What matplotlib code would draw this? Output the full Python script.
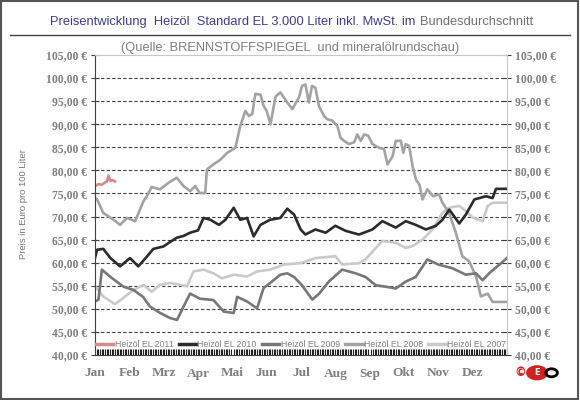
import matplotlib
matplotlib.use("Agg")
import matplotlib.pyplot as plt
from matplotlib.patches import Rectangle, Circle
from matplotlib.lines import Line2D
import numpy as np

# ---------------------------------------------------------------
# Daten (Monate ab Jan = 0, Preis in Euro pro 100 Liter)
# ---------------------------------------------------------------
month_labels = ['Jan', 'Feb', 'Mrz', 'Apr', 'Mai', 'Jun',
                'Jul', 'Aug', 'Sep', 'Okt', 'Nov', 'Dez']

m_2011 = [0.0, 0.1, 0.2, 0.3, 0.35, 0.39, 0.45, 0.52, 0.58]
p_2011 = [76.6, 77.0, 76.9, 77.4, 77.6, 78.9, 77.7, 77.9, 77.6]

m_2010 = [0.0, 0.06, 0.24, 0.45, 0.73, 1.02, 1.26, 1.51, 1.7, 1.99, 2.19,
          2.38, 2.58, 2.77, 3.0, 3.16, 3.36, 3.61, 3.8, 4.04, 4.23, 4.43,
          4.62, 4.82, 5.1, 5.4, 5.6, 5.8, 5.99, 6.13, 6.42, 6.72, 7.0, 7.3,
          7.69, 8.08, 8.37, 8.76, 9.05, 9.34, 9.64, 9.93, 10.12, 10.32,
          10.61, 10.8, 11.05, 11.39, 11.58, 11.68, 12.0]
p_2010 = [61.0, 62.8, 63.0, 61.0, 59.2, 61.0, 59.2, 61.3, 63.0, 63.5, 64.5,
          65.4, 65.8, 66.5, 67.0, 69.7, 69.3, 68.2, 69.3, 71.9, 69.3, 69.7,
          65.7, 68.2, 69.3, 69.7, 71.7, 70.4, 67.2, 66.1, 67.2, 66.5, 68.0,
          66.9, 66.1, 67.2, 69.0, 67.6, 69.0, 68.2, 67.2, 68.0, 69.3, 71.5,
          68.5, 70.4, 73.7, 74.4, 74.0, 76.0, 76.0]

m_2009 = [0.0, 0.1, 0.2, 0.45, 0.83, 1.12, 1.4, 1.6, 1.9, 2.19, 2.39, 2.58,
          2.77, 3.06, 3.45, 3.75, 4.04, 4.14, 4.43, 4.72, 4.91, 5.1, 5.4,
          5.6, 5.8, 6.03, 6.33, 6.53, 6.81, 7.2, 7.59, 7.88, 8.18, 8.47,
          8.76, 9.05, 9.34, 9.68, 10.0, 10.41, 10.8, 11.1, 11.29, 11.48,
          11.78, 12.0]
p_2009 = [51.6, 52.0, 58.5, 56.9, 54.8, 54.1, 52.6, 50.5, 49.1, 48.0, 47.6,
          50.5, 53.3, 52.2, 51.9, 49.4, 49.1, 52.6, 51.6, 50.1, 54.5, 55.6,
          57.4, 57.7, 56.9, 55.1, 52.0, 53.3, 55.9, 58.5, 57.7, 56.9, 55.1,
          54.8, 54.4, 55.9, 56.9, 60.7, 59.6, 58.8, 57.4, 57.7, 56.2, 57.7,
          59.6, 61.0]

m_2008 = [0.0, 0.06, 0.24, 0.54, 0.73, 0.93, 1.17, 1.41, 1.51, 1.65, 1.89,
          2.14, 2.38, 2.58, 2.77, 2.92, 3.05, 3.21, 3.26, 3.45, 3.65, 3.85,
          4.09, 4.23, 4.38, 4.48, 4.58, 4.67, 4.82, 4.91, 5.0, 5.11, 5.26,
          5.4, 5.6, 5.75, 5.94, 6.03, 6.13, 6.23, 6.32, 6.42, 6.52, 6.67,
          6.76, 6.91, 7.06, 7.15, 7.25, 7.4, 7.55, 7.64, 7.74, 7.84, 7.96,
          8.08, 8.27, 8.42, 8.52, 8.67, 8.76, 8.91, 8.98, 9.05, 9.15, 9.25,
          9.35, 9.45, 9.54, 9.68, 9.85, 10.02, 10.12, 10.31, 10.51, 10.7,
          10.9, 11.1, 11.24, 11.44, 11.58, 12.0]
p_2008 = [74.1, 73.7, 70.8, 69.3, 68.2, 69.7, 69.0, 73.3, 74.4, 76.4, 75.9,
          77.3, 78.4, 76.6, 75.5, 76.6, 75.1, 75.1, 80.2, 81.3, 82.3, 83.8,
          84.9, 89.6, 92.9, 91.8, 92.2, 96.6, 96.4, 94.0, 92.9, 90.0, 96.0,
          96.9, 94.7, 93.3, 95.8, 98.3, 98.6, 94.7, 98.3, 97.9, 94.0, 91.8,
          91.1, 90.8, 89.6, 87.1, 86.4, 85.7, 86.1, 87.8, 86.4, 87.8, 87.5,
          85.7, 84.9, 84.6, 81.3, 83.1, 86.4, 86.4, 83.8, 85.7, 85.3, 80.9,
          78.0, 76.9, 73.7, 75.9, 74.4, 74.8, 73.0, 70.8, 66.5, 61.4, 60.3,
          57.0, 52.7, 53.3, 51.5, 51.5]

m_2007 = [0.0, 0.24, 0.58, 0.83, 1.12, 1.41, 1.65, 1.89, 2.19, 2.48, 2.68,
          2.87, 3.16, 3.45, 3.7, 4.04, 4.43, 4.72, 5.11, 5.5, 5.99, 6.42,
          7.0, 7.2, 7.69, 7.88, 8.18, 8.37, 8.76, 9.05, 9.25, 9.54, 9.83,
          10.12, 10.31, 10.61, 10.8, 11.0, 11.29, 11.44, 11.58, 12.0]
p_2007 = [54.9, 52.7, 51.0, 52.4, 54.1, 55.2, 53.7, 55.2, 55.6, 55.2, 54.9,
          58.1, 58.5, 57.7, 56.6, 57.4, 57.0, 58.1, 58.5, 59.6, 59.9, 61.0,
          61.4, 59.6, 59.9, 60.7, 63.2, 64.7, 64.3, 63.2, 63.6, 65.0, 67.2,
          70.8, 71.9, 72.3, 71.2, 69.8, 69.0, 72.3, 73.0, 73.0]

series = [
    ('Heizöl EL 2011', m_2011, p_2011, '#d9898c'),
    ('Heizöl EL 2010', m_2010, p_2010, '#2b2b2b'),
    ('Heizöl EL 2009', m_2009, p_2009, '#777777'),
    ('Heizöl EL 2008', m_2008, p_2008, '#a3a3a3'),
    ('Heizöl EL 2007', m_2007, p_2007, '#cacaca'),
]

# ---------------------------------------------------------------
fig = plt.figure(figsize=(5.8, 4.0), dpi=100)
fig.patch.set_facecolor('white')
fig.patches.append(Rectangle((0.002, 0.003), 0.995, 0.994, transform=fig.transFigure,
                             fill=False, edgecolor='#555555', linewidth=1.5))

ax = fig.add_axes([0.1638, 0.1125, 0.7103, 0.75])

# Reihenfolge: älteste Jahre hinten
for name, m, p, col in reversed(series):
    ax.plot(m, p, color=col, linewidth=1.9, solid_joinstyle='round')

ax.set_xlim(0, 12)
ax.set_ylim(40, 105)

yt = np.arange(40, 106, 5)
ax.set_yticks(yt)
ax.set_yticklabels([f'{v:.2f}'.replace('.', ',') + ' €' for v in yt])
ax.set_xticks(range(12))
ax.set_xticklabels(month_labels)
ax.set_xticks(np.linspace(0, 12, 250), minor=True)

ax.tick_params(axis='y', which='major', length=6, width=0.8, color='#404040',
               direction='inout', right=True, labelright=True, pad=3)
ax.tick_params(axis='x', which='major', length=0, pad=9)
ax.tick_params(axis='x', which='minor', length=4, width=0.8, direction='in',
               color='#202020')

# Schrift der Achsenbeschriftung (links und rechts)
for tick in ax.yaxis.get_major_ticks():
    for lab in (tick.label1, tick.label2):
        lab.set_fontfamily('Liberation Serif')
        lab.set_fontweight('bold')
        lab.set_fontsize(8.4)
        lab.set_color('#7f7f7f')
for lab in ax.get_xticklabels():
    lab.set_fontfamily('Liberation Serif')
    lab.set_fontweight('bold')
    lab.set_fontsize(9.6)
    lab.set_color('#7f7f7f')

ax.yaxis.grid(True, linestyle=(0, (3, 2)), color='#404040', linewidth=0.8)
gls = ax.get_ygridlines()
gls[0].set_visible(False)
gls[-1].set_visible(False)
ax.set_axisbelow(True)

ax.spines['left'].set_color('#404040')
ax.spines['bottom'].set_color('#404040')
ax.spines['top'].set_color('#c8c8c8')
ax.spines['right'].set_color('#c8c8c8')

# Legende
handles = [Line2D([], [], color=col, linewidth=2.5) for _, _, _, col in series]
leg = ax.legend(handles, [s[0] for s in series], loc='lower center',
                bbox_to_anchor=(0.5, -0.005), ncol=5, frameon=False,
                handlelength=2.0, handletextpad=0.15, columnspacing=0.6,
                prop={'family': 'Liberation Sans', 'size': 6.3})
for t in leg.get_texts():
    t.set_color('#808080')

# Titel
fig.text(0.717, 0.945, 'Preisentwicklung  Heizöl  Standard EL 3.000 Liter inkl. MwSt. im',
         ha='right', va='center', color='#3d3d8f', fontsize=9.3,
         family='Liberation Sans')
fig.text(0.724, 0.945, 'Bundesdurchschnitt', ha='left', va='center',
         color='#707070', fontsize=9.3, family='Liberation Sans')
fig.add_artist(Line2D([0.017, 0.983], [0.912, 0.912], transform=fig.transFigure,
                      color='#404040', linewidth=1.0))
fig.text(0.5, 0.88, '(Quelle: BRENNSTOFFSPIEGEL  und mineralölrundschau)',
         ha='center', va='center', color='#7f7f7f', fontsize=9.3,
         family='Liberation Sans')

fig.text(0.04, 0.49, 'Preis in Euro pro 100 Liter', rotation=90, ha='center',
         va='center', color='#777777', fontsize=6.8,
         family='Liberation Sans')

# Logo
fig.text(0.897, 0.068, '©', color='#d42020', fontsize=8.5, fontweight='bold',
         ha='center', va='center', family='DejaVu Sans')
fig.patches.append(Circle((0.926, 0.068), 0.019, transform=fig.transFigure,
                          facecolor='#d42020', edgecolor='none'))
fig.text(0.926, 0.068, 'E', color='white', fontsize=6, fontweight='bold',
         ha='center', va='center')
fig.patches.append(Circle((0.951, 0.068), 0.010, transform=fig.transFigure,
                          facecolor='none', edgecolor='black', linewidth=2.0))

fig.savefig('out.png', dpi=100)
